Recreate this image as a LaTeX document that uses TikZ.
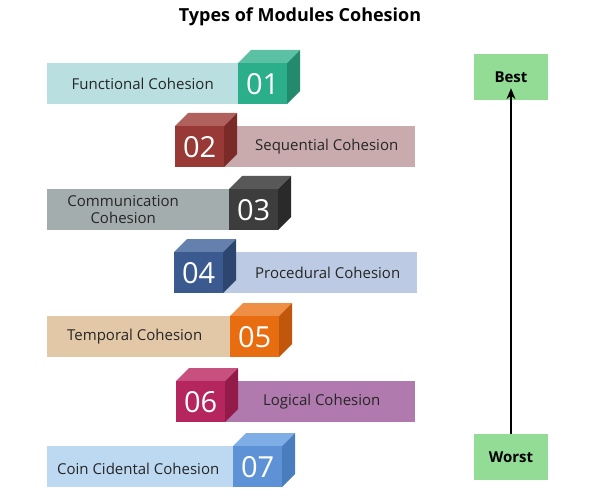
\documentclass[tikz,border=0pt]{standalone}
\usepackage{fontspec}
\setmainfont{Open Sans}
\usetikzlibrary{arrows.meta}
\definecolor{f1}{RGB}{43,174,138}\definecolor{t1}{RGB}{92,192,164}\definecolor{s1}{RGB}{35,138,110}\definecolor{b1}{RGB}{185,223,225}
\definecolor{f2}{RGB}{152,57,53}\definecolor{t2}{RGB}{176,96,93}\definecolor{s2}{RGB}{122,43,40}\definecolor{b2}{RGB}{201,171,173}
\definecolor{f3}{RGB}{61,61,61}\definecolor{t3}{RGB}{88,88,88}\definecolor{s3}{RGB}{42,42,42}\definecolor{b3}{RGB}{164,173,173}
\definecolor{f4}{RGB}{59,90,143}\definecolor{t4}{RGB}{100,129,173}\definecolor{s4}{RGB}{44,70,112}\definecolor{b4}{RGB}{188,203,227}
\definecolor{f5}{RGB}{232,109,16}\definecolor{t5}{RGB}{239,142,69}\definecolor{s5}{RGB}{192,87,10}\definecolor{b5}{RGB}{227,200,168}
\definecolor{f6}{RGB}{181,37,94}\definecolor{t6}{RGB}{200,80,127}\definecolor{s6}{RGB}{146,27,74}\definecolor{b6}{RGB}{176,122,174}
\definecolor{f7}{RGB}{93,147,214}\definecolor{t7}{RGB}{126,174,229}\definecolor{s7}{RGB}{74,125,189}\definecolor{b7}{RGB}{188,217,241}
\definecolor{rk}{RGB}{146,220,150}
\begin{document}
\begin{tikzpicture}[x=1pt,y=-1pt,
  bar/.style={anchor=north west,inner sep=0,minimum height=41pt},
  lbl/.style={font=\fontsize{15}{17}\selectfont,text=black!85,align=center},
  num/.style={anchor=north west,minimum width=49pt,minimum height=41pt,inner sep=0,text=white,font=\fontsize{29}{30}\selectfont},
  rank/.style={fill=rk,minimum width=74pt,minimum height=46pt,font=\bfseries\fontsize{15}{17}\selectfont},
  ]
\useasboundingbox (0,0) rectangle (600,500);
\node[font=\bfseries\fontsize{18}{20}\selectfont] (title) at (300,17) {Types of Modules Cohesion};
\newcommand{\mycube}[5]{%
  \fill[t#5] (#2,#3) -- ++(13,-13) -- ++(49,0) -- ++(-13,13) -- cycle;
  \fill[s#5] (#2+49,#3) -- ++(13,-13) -- ++(0,41) -- ++(-13,13) -- cycle;
  \node[num,fill=f#5] (#1) at (#2,#3) {#4};}
\node[bar,fill=b1,minimum width=191pt] (b1) at (47,63) {};
\node[lbl] (l1) at (b1.center) {Functional Cohesion};
\mycube{c1}{238}{63}{01}{1}
\node[bar,fill=b2,minimum width=193pt] (b2) at (222,126) {};
\node[lbl] (l2) at ([xshift=8pt]b2.center) {Sequential Cohesion};
\mycube{c2}{175}{126}{02}{2}
\node[bar,fill=b3,minimum width=182pt] (b3) at (47,189) {};
\node[lbl] (l3) at ([xshift=-15pt]b3.center) {Communication\\Cohesion};
\mycube{c3}{229}{189}{03}{3}
\node[bar,fill=b4,minimum width=195pt] (b4) at (222,252) {};
\node[lbl] (l4) at ([xshift=8pt]b4.center) {Procedural Cohesion};
\mycube{c4}{174}{252}{04}{4}
\node[bar,fill=b5,minimum width=183pt] (b5) at (47,316) {};
\node[lbl] (l5) at ([xshift=-4pt]b5.center) {Temporal Cohesion};
\mycube{c5}{230}{316}{05}{5}
\node[bar,fill=b6,minimum width=191pt] (b6) at (224,381) {};
\node[lbl] (l6) at ([xshift=2pt]b6.center) {Logical Cohesion};
\mycube{c6}{176}{381}{06}{6}
\node[bar,fill=b7,minimum width=186pt] (b7) at (47,446) {};
\node[lbl] (l7) at ([xshift=-2pt,yshift=-2pt]b7.center) {Coin Cidental Cohesion};
\mycube{c7}{233}{446}{07}{7}
\node[rank] (best) at (511,77) {Best};
\node[rank] (worst) at (511,457) {Worst};
\draw[-{Stealth[length=11pt,width=9pt]},line width=1.3pt] (worst.north) -- ([yshift=12pt]best.south);
\end{tikzpicture}
\end{document}
